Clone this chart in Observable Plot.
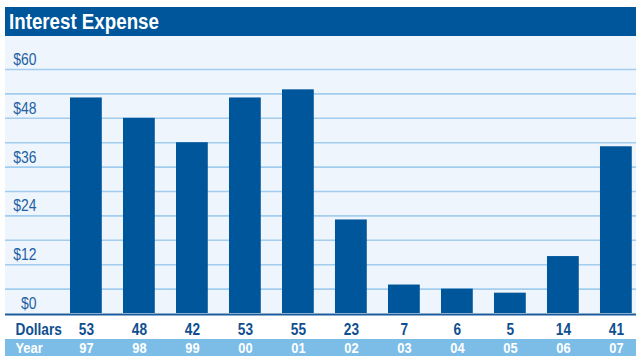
<!DOCTYPE html>
<html>
<head>
<meta charset="utf-8">
<script src="https://cdn.jsdelivr.net/npm/d3@7"></script>
<script src="https://cdn.jsdelivr.net/npm/@observablehq/plot@0.6"></script>
<style>
  html, body { margin: 0; padding: 0; background: #fff; }
  #chart { width: 636px; height: 356px; overflow: hidden; }
  .title {
    margin: 7px 0 0 5px; height: 29px; box-sizing: border-box; padding-left: 4px;
    background: #00569a; color: #fff;
    font: bold 22.3px "Liberation Sans", Arial, sans-serif;
    line-height: 30px; white-space: nowrap;
  }
  /* narrow, condensed headline type */
  .title span { display: inline-block; transform: scaleX(0.84); transform-origin: left center; }
  #chart svg { display: block; }
</style>
</head>
<body>
<div id="chart"><div class="title"><span>Interest Expense</span></div></div>
<script>
// Interest expense by fiscal year, in millions of dollars
const years = ["97", "98", "99", "00", "01", "02", "03", "04", "05", "06", "07"];
const dollars = [53, 48, 42, 53, 55, 23, 7, 6, 5, 14, 41];
const gridValues = [6, 12, 18, 24, 30, 36, 42, 48, 54, 60];
const tickLabels = [0, 12, 24, 36, 48, 60];

const table = years.map((year, i) => ({year, value: dollars[i]}));

const font = '"Liberation Sans", Arial, sans-serif';
const barColor = "#00569a";
const plotBg = "#eff5fd";
const gridColor = "#a3cdee";
const baseColor = "#1b5a9c";
const tickColor = "#2160a3";
const rowText = "#0f4f90";
const yearBg = "#7cbde8";

// Shaded panels: plot background and the year strip along the bottom
const panels = (index, scales, values, {width, height, marginLeft, marginBottom}) => {
  const g = d3.create("svg:g");
  g.append("rect")
    .attr("x", marginLeft).attr("y", 0)
    .attr("width", width - marginLeft).attr("height", height - marginBottom)
    .attr("fill", plotBg);
  g.append("rect")
    .attr("x", marginLeft).attr("y", height - 17)
    .attr("width", width - marginLeft).attr("height", 17)
    .attr("fill", yearBg);
  return g.node();
};

const chart = Plot.plot({
  width: 636,
  height: 320,
  marginLeft: 5,
  marginRight: 0,
  marginTop: 33,
  marginBottom: 43,
  style: {fontFamily: font, background: "#fff", overflow: "visible"},
  x: {type: "band", domain: years, paddingInner: 0.4, paddingOuter: 0.653, align: 0.939, round: false, axis: null},
  y: {domain: [0, 60], axis: null},
  marks: [
    panels,
    Plot.ruleY(gridValues, {stroke: gridColor, strokeWidth: 1.6}),
    Plot.text(tickLabels, {
      y: d => d, text: d => `$${d}`, frameAnchor: "left", dx: 31, dy: -4.5,
      textAnchor: "end", lineAnchor: "bottom", fill: tickColor, fontSize: 16.8
    }),
    Plot.barY(table, {x: "year", y: "value", fill: barColor}),
    Plot.ruleY([0], {stroke: baseColor, strokeWidth: 2, dy: 1}),
    // Dollars row
    Plot.text(["Dollars"], {
      frameAnchor: "bottom-left", dx: 10, dy: 21.7, textAnchor: "start", lineAnchor: "bottom",
      fill: rowText, fontWeight: "bold", fontSize: 16.5
    }),
    Plot.text(table, {
      x: "year", text: d => String(d.value), frameAnchor: "bottom", dy: 21.7, lineAnchor: "bottom",
      fill: rowText, fontWeight: "bold", fontSize: 16.5
    }),
    // Year row
    Plot.text(["Year"], {
      frameAnchor: "bottom-left", dx: 10, dy: 39.5, textAnchor: "start", lineAnchor: "bottom",
      fill: "#fff", fontWeight: "bold", fontSize: 15.5
    }),
    Plot.text(table, {
      x: "year", text: "year", frameAnchor: "bottom", dy: 39.5, lineAnchor: "bottom",
      fill: "#fff", fontWeight: "bold", fontSize: 15.5
    })
  ]
});

document.getElementById("chart").appendChild(chart);

// Condense every label horizontally, like a narrow typeface
chart.querySelectorAll("text").forEach(t => {
  const len = t.getComputedTextLength();
  t.setAttribute("textLength", (len * 0.83).toFixed(1));
  t.setAttribute("lengthAdjust", "spacingAndGlyphs");
});
</script>
</body>
</html>
